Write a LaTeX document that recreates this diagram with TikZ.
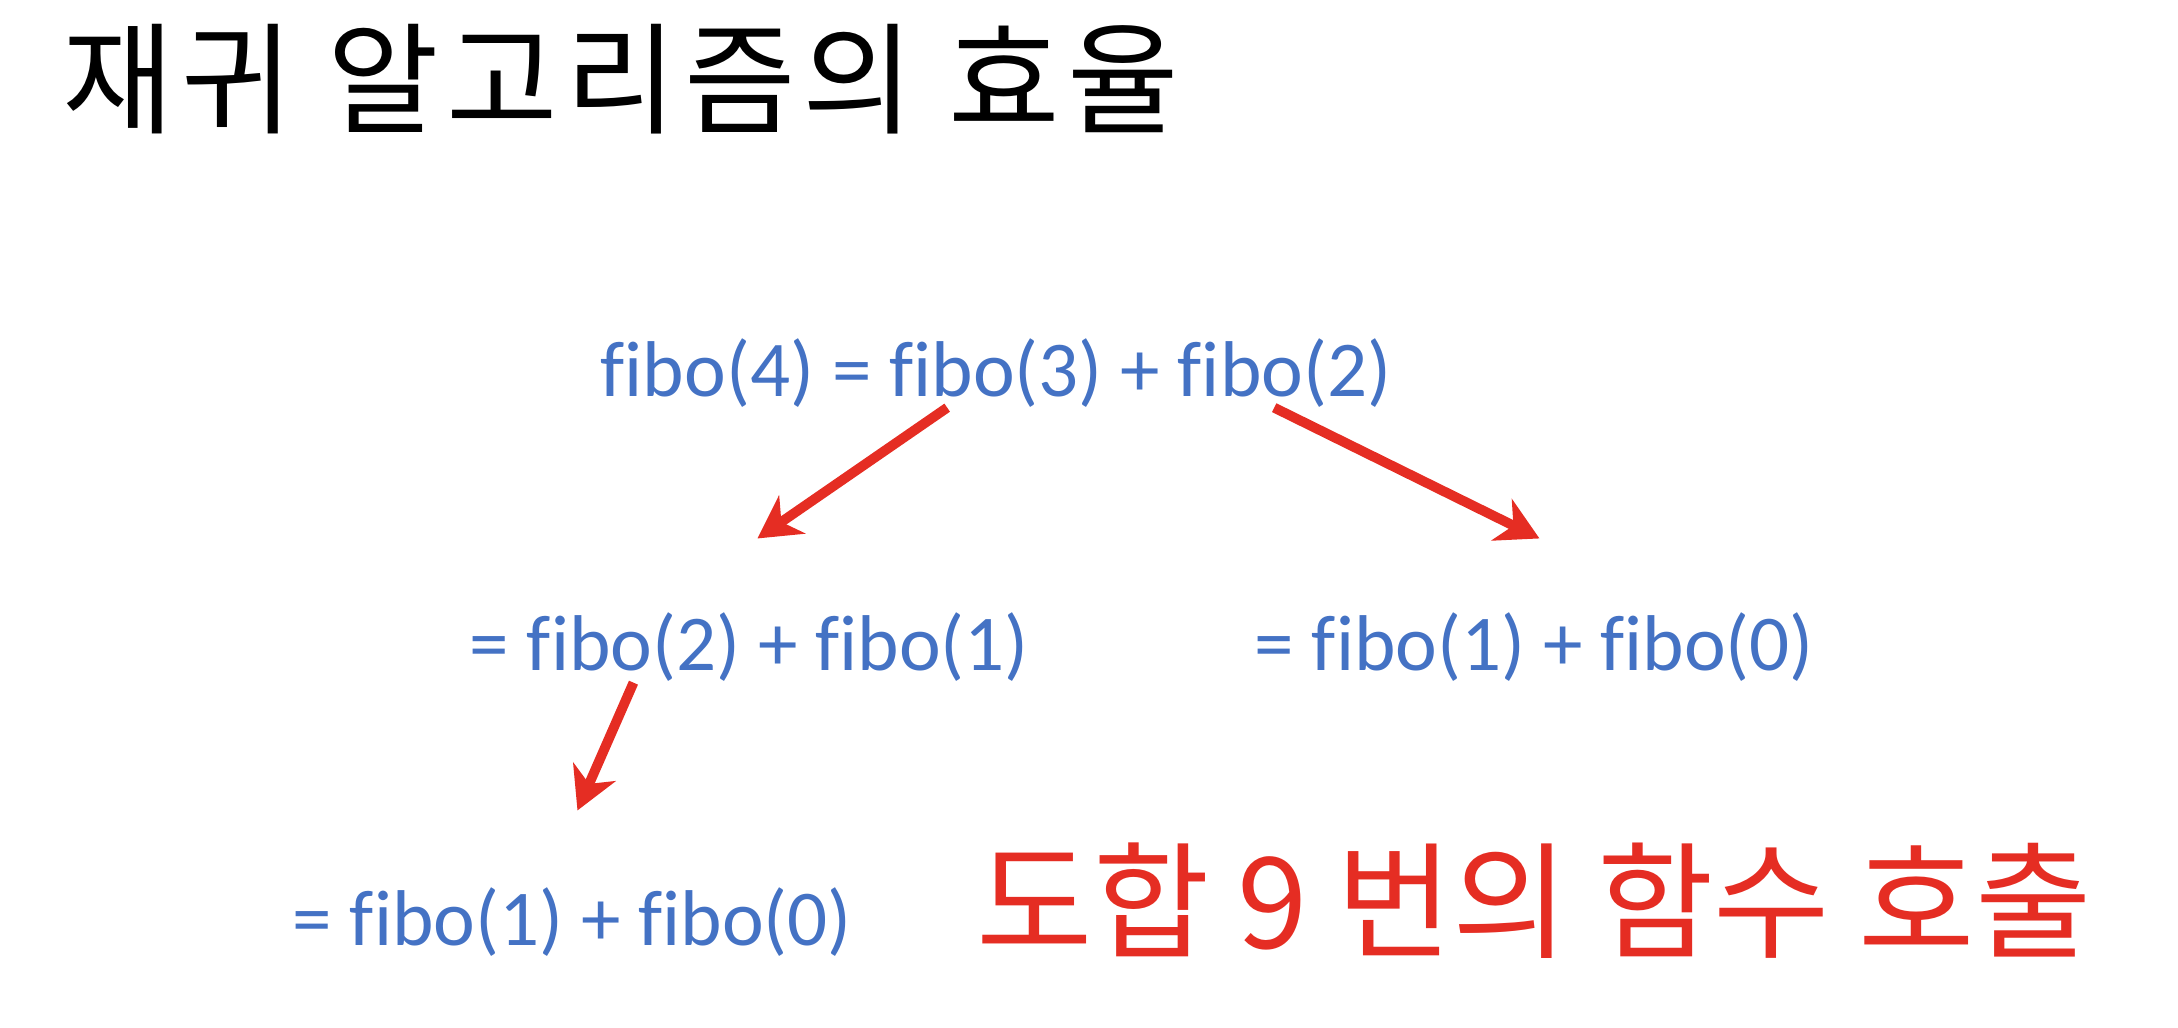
\documentclass[tikz,border=0pt]{standalone}
\usepackage{fontspec}
\setmainfont{Carlito}[Ligatures=CommonOff]
\newfontfamily\kor{Noto Sans CJK KR}
\usetikzlibrary{arrows.meta}
\definecolor{fiboblue}{RGB}{68,114,196}
\definecolor{callred}{RGB}{229,45,35}
\def\Frame{(0,0) rectangle (21.78,-10.28)}
\def\fibo#1{f\kern0pt ibo(#1)}

\begin{document}
\begin{tikzpicture}[
    fibo/.style={inner sep=0pt,anchor=base west,text=fiboblue,font=\fontsize{22.5}{27}\selectfont},
    call/.style={draw=callred,line width=2.8pt,-{Stealth[length=4.2mm,width=4.6mm,inset=1.3mm]}}]
    \useasboundingbox \Frame;
    \node[inner sep=0pt,anchor=base west,font=\kor\fontsize{34.5}{40}\selectfont\addfontfeatures{LetterSpace=6}] (title) at (0.62,-1.25) {재귀 알고리즘의 효율};
    \node[fibo] (f4) at (6.00,-3.96) {\fibo{4} = \fibo{3} + \fibo{2}};
    \node[fibo] (f3) at (4.69,-6.71) {= \fibo{2} + \fibo{1}};
    \node[fibo] (f2) at (12.54,-6.71) {= \fibo{1} + \fibo{0}};
    \node[fibo] (f2b) at (2.92,-9.45) {= \fibo{1} + \fibo{0}};
    \node[inner sep=0pt,anchor=base west,text=callred,font=\kor\fontsize{36}{44}\selectfont] (total) at (9.76,-9.48) {도합 9 번의 함수 호출};
    \draw[call] ([xshift=-4.9mm]f4.south) -- ([xshift=0.8mm,yshift=7.4mm]f3.north);
    \draw[call] ([xshift=27.8mm]f4.south) -- ([xshift=0.5mm,yshift=7.4mm]f2.north);
    \draw[call] ([xshift=-11.6mm]f3.south) -- ([xshift=0.5mm,yshift=7.6mm]f2b.north);
  \end{tikzpicture}
\end{document}
